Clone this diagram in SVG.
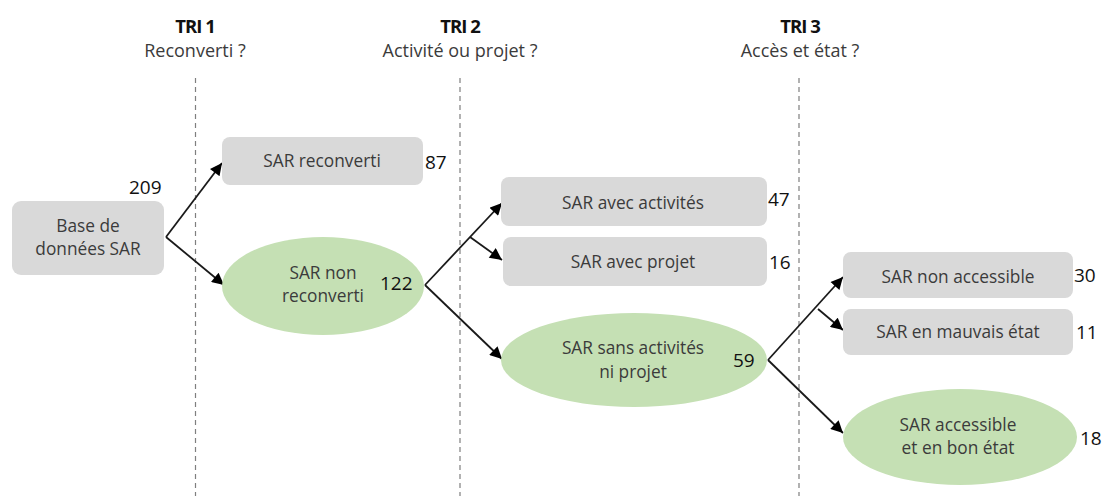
<svg xmlns="http://www.w3.org/2000/svg" width="1104" height="496" viewBox="0 0 1104 496">
<style>
text{font-family:"Open Sans","Liberation Sans",sans-serif;}
.lbl{font-size:17.3px;fill:#3b3b3b;text-anchor:middle;}
.num{font-size:19px;fill:#111;}
.hdr{font-size:18.5px;font-weight:bold;fill:#111;text-anchor:middle;letter-spacing:-1px;}
.q{font-size:18px;fill:#3b3b3b;text-anchor:middle;}
.box{fill:#d9d9d9;}
.ell{fill:#c5e0b4;}
.dash{stroke:#7f7f7f;stroke-width:1.2;stroke-dasharray:5 4;fill:none;}
.arr{stroke:#1a1a1a;stroke-width:1.8;fill:none;marker-end:url(#ah);}
</style>
<defs>
<marker id="ah" viewBox="0 0 10 10" refX="10" refY="5" markerWidth="13" markerHeight="12" markerUnits="userSpaceOnUse" orient="auto">
<path d="M0,0 L10,5 L0,10 z" fill="#000"/>
</marker>
</defs>
<rect width="1104" height="496" fill="#fff"/>
<g id="headers">
<text class="hdr" x="195" y="33">TRI 1</text>
<text class="q" x="195" y="57">Reconverti ?</text>
<text class="hdr" x="460" y="33">TRI 2</text>
<text class="q" x="460" y="57">Activité ou projet ?</text>
<text class="hdr" x="800" y="33">TRI 3</text>
<text class="q" x="800" y="57">Accès et état ?</text>
</g>
<g id="dividers">
<line class="dash" x1="195.5" y1="78" x2="195.5" y2="496"/>
<line class="dash" x1="460" y1="78" x2="460" y2="496"/>
<line class="dash" x1="799" y1="78" x2="799" y2="496"/>
</g>
<g id="connectors">
<line class="arr" x1="166" y1="237" x2="222" y2="163"/>
<line class="arr" x1="166" y1="237" x2="224" y2="285"/>
<line class="arr" x1="425" y1="285" x2="502" y2="203"/>
<line class="arr" x1="470" y1="237" x2="502" y2="260"/>
<line class="arr" x1="425" y1="285" x2="502" y2="359"/>
<line class="arr" x1="768" y1="360" x2="843" y2="277"/>
<line class="arr" x1="818" y1="309" x2="843" y2="330"/>
<line class="arr" x1="768" y1="360" x2="843" y2="433"/>
</g>
<g id="base">
<rect class="box" x="12" y="201" width="152" height="74" rx="9"/>
<text class="lbl" x="88" y="232">Base de</text>
<text class="lbl" x="88" y="255">données SAR</text>
<text class="num" x="129" y="194">209</text>
</g>
<g id="reconverti">
<rect class="box" x="222" y="137" width="201" height="48" rx="8"/>
<text class="lbl" x="322" y="167">SAR reconverti</text>
<text class="num" x="425" y="169">87</text>
</g>
<g id="non-reconverti">
<ellipse class="ell" cx="323" cy="286" rx="101" ry="49"/>
<text class="lbl" x="323" y="279">SAR non</text>
<text class="lbl" x="323" y="302">reconverti</text>
<text class="num" x="380" y="290">122</text>
</g>
<g id="avec-activites">
<rect class="box" x="501" y="177" width="266" height="49" rx="8"/>
<text class="lbl" x="633" y="209">SAR avec activités</text>
<text class="num" x="768" y="206">47</text>
</g>
<g id="avec-projet">
<rect class="box" x="503" y="237" width="264" height="49" rx="8"/>
<text class="lbl" x="633" y="268">SAR avec projet</text>
<text class="num" x="769" y="269">16</text>
</g>
<g id="sans-activites">
<ellipse class="ell" cx="634" cy="360" rx="133" ry="47"/>
<text class="lbl" x="633" y="354">SAR sans activités</text>
<text class="lbl" x="633" y="378">ni projet</text>
<text class="num" x="733" y="367">59</text>
</g>
<g id="non-accessible">
<rect class="box" x="843" y="252" width="230" height="46" rx="8"/>
<text class="lbl" x="958" y="283">SAR non accessible</text>
<text class="num" x="1074" y="282">30</text>
</g>
<g id="mauvais-etat">
<rect class="box" x="843" y="309" width="230" height="46" rx="8"/>
<text class="lbl" x="958" y="338">SAR en mauvais état</text>
<text class="num" x="1076" y="339">11</text>
</g>
<g id="accessible">
<ellipse class="ell" cx="960" cy="437" rx="117" ry="48"/>
<text class="lbl" x="958" y="431">SAR accessible</text>
<text class="lbl" x="958" y="454">et en bon état</text>
<text class="num" x="1080" y="445">18</text>
</g>
</svg>
